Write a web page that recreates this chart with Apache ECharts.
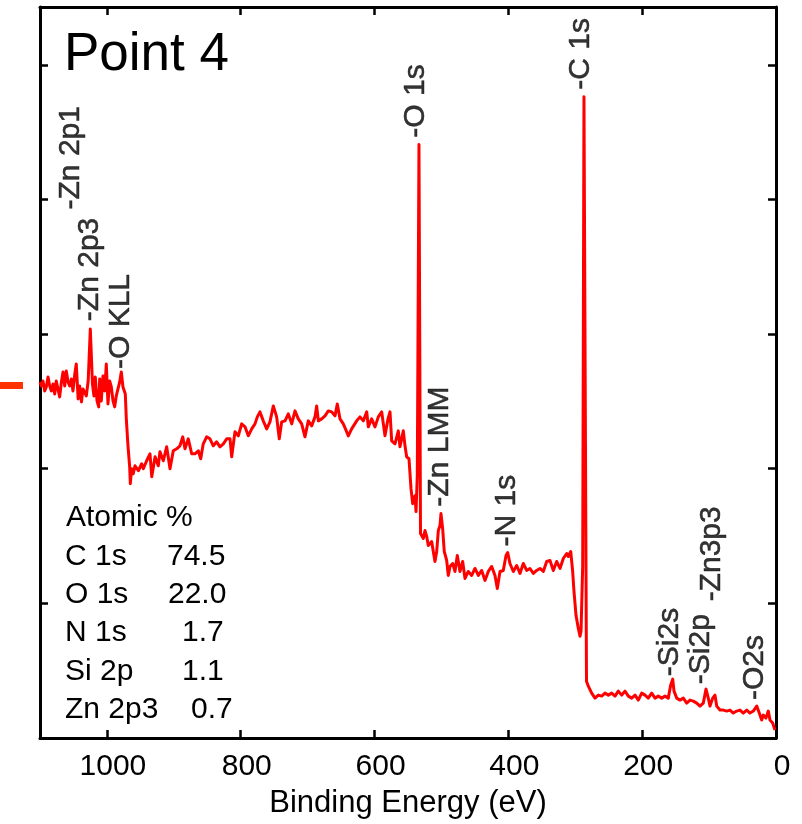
<!DOCTYPE html>
<html>
<head>
<meta charset="utf-8">
<script src="https://cdn.jsdelivr.net/npm/echarts@6/dist/echarts.min.js"></script>
<style>
html,body{margin:0;padding:0;background:#fff;}
#c{width:802px;height:824px;}
</style>
</head>
<body>
<div id="c"></div>
<script>
// Binding energy (eV) and intensity (a.u.)
const energy = [1100,1098,1095.5,1093,1090.6,1088,1085.5,1083,1080.6,1078,1075.7,1073,1070.6,1068,1065.6,1063,1060.7,1058,1055.6,1053,1050.7,1048,1045.8,1043,1040.7,1038,1035.8,1033,1030.8,1028,1024.8,1021.6,1019.3,1017.4,1014.8,1012.3,1010.8,1008.4,1005.9,1003.3,1000.9,998.4,995.9,993.4,990.9,988.4,986,983.4,980.9,978.5,976,972.5,971,968.5,966,965,963,960.6,958,953,948,945.6,940.6,935.6,933,928,923.2,920.7,915.7,910.7,905.7,900.8,895.7,890.8,886.7,883.3,878.4,873.3,868.4,863.4,859.8,856,850.9,846,841,836,831,826,821,816,813.5,808.6,803.6,798.6,793.6,788.7,783.6,778.7,775.2,771.2,766.3,761.2,756.3,751.3,746.3,742.4,738.8,733.8,728.9,723.8,718.9,714,708.9,704,699,694,689,686.5,684,679,674,669.1,664,659.1,655.7,651.6,646.7,641.6,639.2,634.2,626.7,621.8,616.8,611.7,609.3,604.3,599.3,594.4,589.3,584.4,579.9,576.9,574.4,569.4,564.5,562,557,554.5,552,548.5,545.5,543,539.5,538,536.1,533.6,531.3,527.1,524.6,522,519.7,517.1,514.6,512.2,509.7,507.1,504.7,502.2,500.7,498.2,495.8,492.2,489.8,487.2,483.2,479.8,476.3,472.3,468.3,464.8,459.9,454.8,449.9,444.9,439.9,434.9,430,424.9,420,416.5,412.5,407.6,403.5,401,397.6,392.6,387.5,382.6,377.7,372.6,367.7,362.7,357.7,352.7,347.8,342.7,337.8,332.8,327.8,322.8,317.9,312.8,310.4,306.8,303.9,301.9,298.9,295.5,292.9,291.4,288.9,287,283.2,280.5,275.5,270.5,265.6,260.5,255.6,250.6,245.6,240.6,235.7,230.6,225.7,220.7,215.7,210.7,205.8,200.7,195.8,190.9,185.8,180.8,175.9,170.8,165.9,161,157.4,154.4,152.4,148.4,143.5,138.5,133.5,128.5,123.6,118.5,113.6,108.7,104.6,101.2,98.6,94.6,91.2,88.6,83.7,78.8,73.7,68.8,63.8,58.7,53.8,48.9,43.8,38.9,33.9,28.8,25,21.4,19,15,11.5,9,5,1.5];
const intensity = [357,353,358,348,352,362,353,348,355,345,358,360,342,357,367,353,368,357,353,360,348,365,375,340,353,337,350,348,343,358,410,355,343,362,338,332,360,338,363,348,375,335,358,352,338,332,343,342,357,367,352,345,320,293,272,255,270,265,273,268,275,270,278,285,262,282,273,287,278,292,270,288,290,293,302,290,300,285,285,288,280,295,302,300,293,297,292,295,300,300,282,307,303,315,312,303,310,315,322,327,318,310,317,333,322,300,317,318,325,315,328,320,315,302,318,313,322,333,318,320,323,328,327,323,335,320,315,307,303,310,318,322,318,327,312,320,312,322,327,303,320,327,298,295,308,292,308,293,282,280,250,235,243,227,263,595,205,200,208,202,193,192,197,187,177,187,208,213,225,210,187,178,163,172,175,167,183,167,177,160,167,163,170,163,168,158,167,172,163,150,167,168,183,186,175,167,173,165,175,168,170,165,168,170,167,177,178,168,177,170,180,185,182,187,167,147,123,110,102,107,173,643,57,52,45,40,43,42,45,43,45,42,47,43,47,42,40,43,38,45,43,40,45,40,42,40,42,40,53,59,47,40,38,40,35,38,37,35,32,35,49,40,32,40,43,32,28,28,27,28,25,27,28,25,28,25,27,32,25,18,23,20,27,18,15,8];

// Peak annotations: label text, energy, intensity where the label starts
const peakNames = ["-Zn 2p1","-Zn 2p3","-O KLL","-O 1s","-C 1s","-Zn LMM","-N 1s","-Si2s","-Si2p","-Zn3p3","-O2s"];
const peakEnergy = [1053.7,1025.3,979,538,291.4,502.2,402,158.4,112,95.7,31.4];
const peakLabelY = [530,418,370,602,650,232,192,62,54,137,38];

// Atomic % table
const atomicTitle = "Atomic %";
const atomicNames = ["C 1s","O 1s","N 1s","Si 2p","Zn 2p3"];
const atomicValues = ["74.5","22.0","1.7","1.1","0.7"];

const xTicks = [0,200,400,600,800,1000];
const panelTitle = "Point 4";
const xName = "Binding Energy (eV)";

const FONT = "'Liberation Sans', Arial, Helvetica, sans-serif";

const lineData = energy.map((e,i)=>[e,intensity[i]]);
const peakData = peakNames.map((n,i)=>[peakEnergy[i],peakLabelY[i],n]);

const chart = echarts.init(document.getElementById('c'), null, {renderer:'canvas'});

const axisLineStyle = {color:'#000', width:3};
const tickStyle = {color:'#000', width:2.5};

const graphics = [];
graphics.push({type:'rect', shape:{x:0,y:382,width:23,height:7}, style:{fill:'#ff3300'}});
graphics.push({type:'text', x:64, y:55, style:{text:panelTitle, font:'53px '+FONT, fill:'#000', verticalAlign:'middle', textVerticalAlign:'middle'}});
graphics.push({type:'text', x:66, y:517.6, style:{text:atomicTitle, font:'30px '+FONT, fill:'#000', verticalAlign:'middle', textVerticalAlign:'middle'}});
const rowMid = [556.6,594.6,632.6,671.6,709.6];
const valX = [167,168,182,182,191];
atomicNames.forEach((n,i)=>{
  graphics.push({type:'text', x:65, y:rowMid[i], style:{text:n, font:'30px '+FONT, fill:'#000', verticalAlign:'middle', textVerticalAlign:'middle'}});
  graphics.push({type:'text', x:valX[i], y:rowMid[i], style:{text:atomicValues[i], font:'30px '+FONT, fill:'#000', verticalAlign:'middle', textVerticalAlign:'middle'}});
});

const option = {
  animation:false,
  backgroundColor:'#fff',
  grid:{left:40, right:26, top:7, bottom:84, containLabel:false},
  xAxis:[{
    type:'value', inverse:true, min:0, max:1100, interval:200,
    position:'bottom',
    name:xName, nameLocation:'middle', nameGap:50,
    nameTextStyle:{fontSize:31, fontFamily:FONT, color:'#000', lineHeight:31},
    axisLine:{show:true, onZero:false, lineStyle:axisLineStyle},
    axisTick:{show:true, inside:true, length:8, lineStyle:tickStyle},
    axisLabel:{show:true, showMaxLabel:false, margin:14, fontSize:30, lineHeight:30, fontFamily:FONT, color:'#000', padding:[0,0,0,12],
      formatter:(v)=> xTicks.indexOf(v)>=0 ? String(v) : ''},
    splitLine:{show:false}
  },{
    type:'value', inverse:true, min:0, max:1100, interval:200,
    position:'top',
    axisLine:{show:true, onZero:false, lineStyle:axisLineStyle},
    axisTick:{show:true, inside:true, length:8, lineStyle:tickStyle},
    axisLabel:{show:false},
    splitLine:{show:false}
  }],
  yAxis:[{
    type:'value', min:0, max:733, interval:135, position:'left',
    axisLine:{show:true, onZero:false, lineStyle:axisLineStyle},
    axisTick:{show:true, inside:true, length:8, lineStyle:tickStyle},
    axisLabel:{show:false},
    splitLine:{show:false}
  },{
    type:'value', min:0, max:733, interval:135, position:'right',
    axisLine:{show:true, onZero:false, lineStyle:axisLineStyle},
    axisTick:{show:true, inside:true, length:8, lineStyle:tickStyle},
    axisLabel:{show:false},
    splitLine:{show:false}
  }],
  series:[{
    type:'line', xAxisIndex:0, yAxisIndex:0,
    data:lineData, showSymbol:false, symbol:'none',
    lineStyle:{color:'#ff0000', width:3, join:'round'},
    itemStyle:{color:'#ff0000'},
    clip:true, z:3
  },{
    type:'scatter', xAxisIndex:0, yAxisIndex:0,
    data:peakData, symbolSize:1,
    itemStyle:{color:'rgba(0,0,0,0)'},
    label:{show:true, position:'inside', rotate:90, align:'left', verticalAlign:'middle',
      fontSize:30, lineHeight:30, fontFamily:FONT, color:'#000',
      textBorderColor:'#000', textBorderWidth:0.5,
      formatter:(p)=>p.data[2]},
    emphasis:{disabled:true},
    z:4
  }],
  graphic:graphics
};
chart.setOption(option);
</script>
</body>
</html>
